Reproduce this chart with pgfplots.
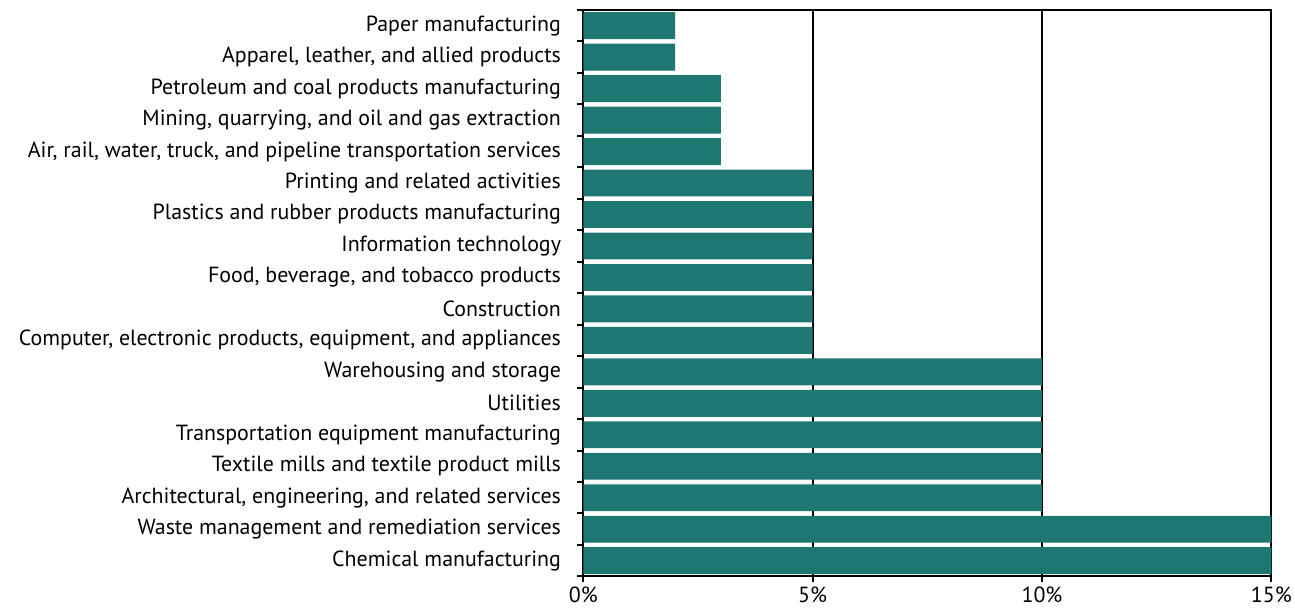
\documentclass[border=0pt]{standalone}
\usepackage{fontspec}
\setmainfont{PT Sans}
\usepackage{pgfplots}
\pgfplotsset{compat=1.18}
\definecolor{barc}{RGB}{31,119,114}
\begin{document}
\begin{tikzpicture}
\begin{axis}[
  scale only axis,
  width=691pt, height=569pt,
  xbar, bar width=27pt,
  xmin=0, xmax=15, ymin=-0.5, ymax=17.5,
  axis line style={line width=2pt, black},
  xtick={0,5,10,15},
  xticklabels={0\%,5\%,10\%,15\%},
  xtick pos=bottom, ytick pos=left,
  tick align=outside,
  major tick length=6pt,
  tick style={line width=2pt, black},
  xmajorgrids,
  grid style={line width=2pt, black},
  ytick={-0.5,0.5,...,17.5},
  yticklabels={},
  extra y ticks={0,1,...,17},
  extra y tick labels={
    Chemical manufacturing,
    Waste management and remediation services,
    {Architectural, engineering, and related services},
    Textile mills and textile product mills,
    Transportation equipment manufacturing,
    Utilities,
    Warehousing and storage,
    {Computer, electronic products, equipment, and appliances},
    Construction,
    {Food, beverage, and tobacco products},
    Information technology,
    Plastics and rubber products manufacturing,
    Printing and related activities,
    {Air, rail, water, truck, and pipeline transportation services},
    {Mining, quarrying, and oil and gas extraction},
    Petroleum and coal products manufacturing,
    {Apparel, leather, and allied products},
    Paper manufacturing},
  extra y tick style={major tick length=0pt, yticklabel style={xshift=-19pt}},
  ticklabel style={font=\fontsize{22}{26}\selectfont},
  xticklabel style={yshift=-1pt},
  /pgf/number format/assume math mode=true,
]
\addplot[fill=barc, draw=none] coordinates {
(15,0) (15,1) (10,2) (10,3) (10,4) (10,5) (10,6)
(5,7) (5,8) (5,9) (5,10) (5,11) (5,12)
(3,13) (3,14) (3,15) (2,16) (2,17)};
\end{axis}
\path[use as bounding box] (-586pt,-32pt) rectangle (709pt,579pt);
\end{tikzpicture}
\end{document}
